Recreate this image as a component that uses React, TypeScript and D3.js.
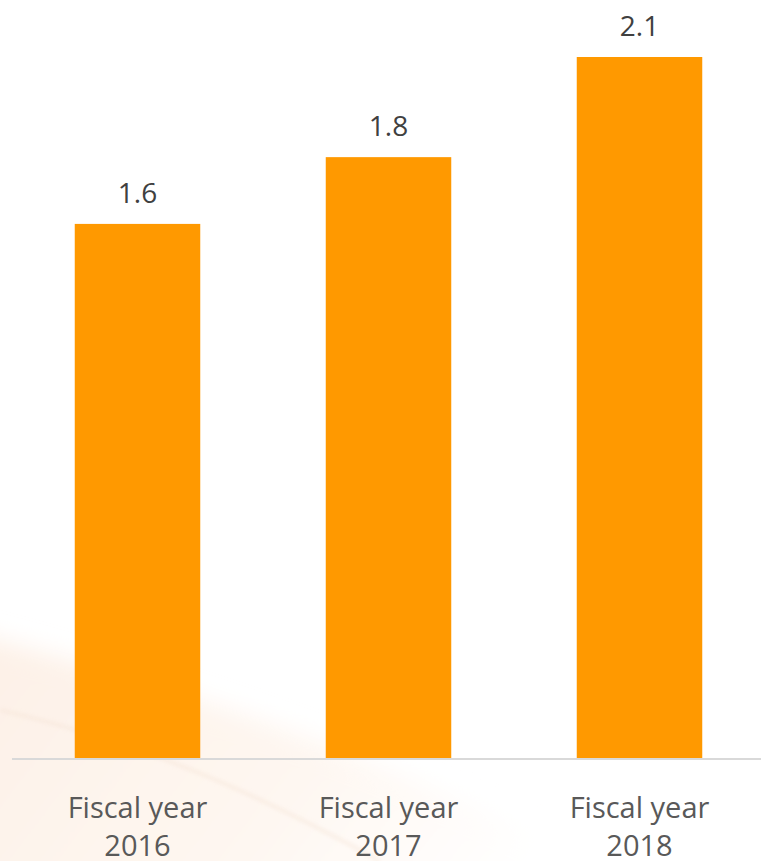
import React from "react";
import * as d3 from "d3";

const categories = ["Fiscal year 2016", "Fiscal year 2017", "Fiscal year 2018"];
const values = [1.6, 1.8, 2.1];
const valueLabels = ["1.6", "1.8", "2.1"];

const W = 761;
const H = 861;
const baseY = 758;

export default function App() {
  const x = d3.scaleBand<string>().domain(categories).range([12, 765]).paddingInner(0.5).paddingOuter(0.25);
  const y = d3.scaleLinear().domain([0, 2.1]).range([baseY, 57]);
  const font = "'Open Sans', 'Noto Sans', sans-serif";
  return (
    <svg width={W} height={H} style={{ position: "absolute", left: 0, top: 0, display: "block" }}>
      <defs>
        <linearGradient id="bgGrad" x1="0" y1="0" x2="1" y2="0.3">
          <stop offset="0" stopColor="#fdf0e6" />
          <stop offset="0.6" stopColor="#fef7f1" />
          <stop offset="1" stopColor="#ffffff" />
        </linearGradient>
        <filter id="soft" x="-20%" y="-20%" width="140%" height="140%">
          <feGaussianBlur stdDeviation="12" />
        </filter>
        <filter id="soft2">
          <feGaussianBlur stdDeviation="2" />
        </filter>
      </defs>
      <rect x={0} y={0} width={W} height={H} fill="#ffffff" />
      <path d={`M-40,630 C150,680 420,760 650,900 L-40,900 Z`} fill="url(#bgGrad)" filter="url(#soft)" />
      <path d={`M0,710 C150,745 260,795 380,861`} fill="none" stroke="#f5e3d5" strokeWidth={3} opacity={0.6} filter="url(#soft2)" />
      {categories.map((c, i) => (
        <g key={c}>
          <rect x={x(c)} y={y(values[i])} width={x.bandwidth()} height={baseY - y(values[i])} fill="#ff9900" />
          <text
            x={(x(c) ?? 0) + x.bandwidth() / 2}
            y={y(values[i]) - 21}
            textAnchor="middle"
            fontFamily={font}
            fontSize={28}
            fill="#404040"
          >
            {valueLabels[i]}
          </text>
          <text
            textAnchor="middle"
            fontFamily={font}
            fontSize={29}
            fill="#595959"
          >
            <tspan x={(x(c) ?? 0) + x.bandwidth() / 2} y={818}>{c.slice(0, 11)}</tspan>
            <tspan x={(x(c) ?? 0) + x.bandwidth() / 2} y={856}>{c.slice(12)}</tspan>
          </text>
        </g>
      ))}
      <line x1={12} x2={W} y1={baseY + 1} y2={baseY + 1} stroke="#d9d9d9" strokeWidth={2} />
    </svg>
  );
}
